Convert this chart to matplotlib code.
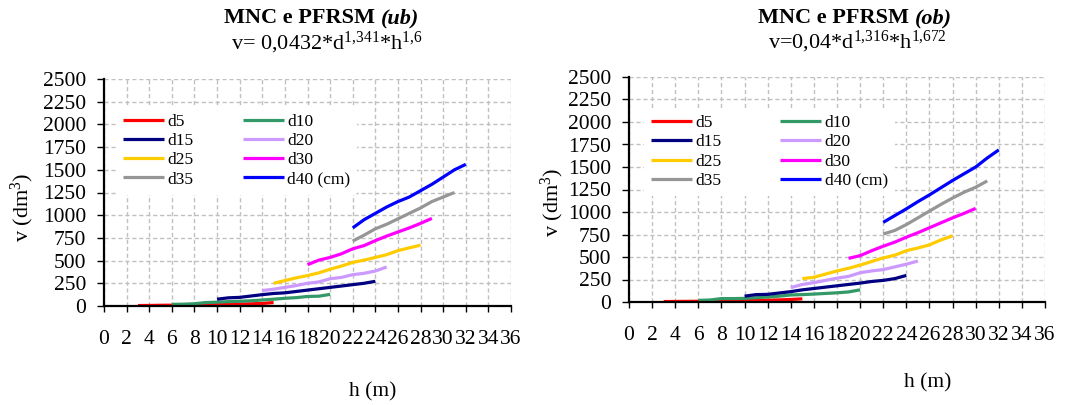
import matplotlib
matplotlib.use("Agg")
import matplotlib.pyplot as plt
import numpy as np

plt.rcParams['font.family'] = ['Liberation Serif', 'DejaVu Serif']
plt.rcParams['mathtext.fontset'] = 'custom'
plt.rcParams['mathtext.rm'] = 'Liberation Serif'
plt.rcParams['mathtext.it'] = 'Liberation Serif:italic'
plt.rcParams['mathtext.bf'] = 'Liberation Serif:bold'

# series names / colours
names = ["d5", "d10", "d15", "d20", "d25", "d30", "d35", "d40 (cm)"]
colors = ["#FF0000", "#339966", "#000080", "#CC99FF",
          "#FFCC00", "#FF00FF", "#969696", "#0000FF"]

# heights (m) for every diameter class
h_d5 = list(range(3, 16))
h_d10 = list(range(6, 21))
h_d15 = list(range(10, 25))
h_d20 = list(range(14, 26))
h_d25 = list(range(15, 29))
h_d30_ub = list(range(18, 30))
h_d30_ob = list(range(19, 31))
h_d35 = list(range(22, 32))
h_d40 = list(range(22, 33))

# volume (dm3) - under bark (ub)
ub_d5 = [5, 6, 8, 9, 11, 13, 15, 17, 19, 21, 24, 28, 38]
ub_d10 = [18, 20, 25, 38, 42, 48, 52, 58, 66, 75, 85, 92, 105, 108, 128]
ub_d15 = [75, 90, 95, 110, 125, 138, 145, 160, 175, 190, 205, 220, 235, 250, 272]
ub_d20 = [170, 185, 205, 225, 250, 265, 300, 315, 345, 360, 385, 430]
ub_d25 = [250, 280, 310, 335, 365, 405, 440, 480, 505, 535, 565, 610, 640, 670]
ub_d30 = [455, 505, 535, 575, 630, 665, 720, 770, 815, 860, 910, 965]
ub_d35 = [715, 780, 850, 900, 960, 1020, 1080, 1150, 1200, 1250]
ub_d40 = [860, 950, 1020, 1090, 1150, 1200, 1270, 1340, 1420, 1500, 1560]

# volume (dm3) - over bark (ob)
ob_d5 = [5, 6, 7, 8, 9, 11, 13, 15, 17, 20, 23, 28, 35]
ob_d10 = [18, 22, 38, 38, 40, 48, 55, 65, 78, 82, 88, 95, 102, 112, 135]
ob_d15 = [65, 82, 85, 100, 115, 135, 150, 165, 180, 195, 210, 228, 240, 260, 295]
ob_d20 = [160, 195, 215, 240, 265, 285, 325, 345, 360, 390, 420, 455]
ob_d25 = [260, 275, 310, 345, 375, 410, 450, 490, 520, 570, 600, 635, 690, 735]
ob_d30 = [485, 515, 570, 620, 665, 720, 770, 825, 880, 935, 985, 1040]
ob_d35 = [755, 795, 860, 935, 1010, 1085, 1155, 1220, 1275, 1345]
ob_d40 = [885, 960, 1035, 1115, 1190, 1270, 1350, 1425, 1500, 1600, 1690]

ub_h = [h_d5, h_d10, h_d15, h_d20, h_d25, h_d30_ub, h_d35, h_d40]
ub_v = [ub_d5, ub_d10, ub_d15, ub_d20, ub_d25, ub_d30, ub_d35, ub_d40]
ob_h = [h_d5, h_d10, h_d15, h_d20, h_d25, h_d30_ob, h_d35, h_d40]
ob_v = [ob_d5, ob_d10, ob_d15, ob_d20, ob_d25, ob_d30, ob_d35, ob_d40]

x_ticks = list(range(0, 37, 2))
y_ticks = list(range(0, 2501, 250))

W = 1071.0
H = 405.0


def draw_panel(ax, a_h, a_v, a_leg_xy, a_colspace):
    t_lines = []
    for t_idx in range(len(names)):
        t_line, = ax.plot(a_h[t_idx], a_v[t_idx], color=colors[t_idx], lw=2.3,
                          label=names[t_idx], solid_capstyle="butt")
        t_lines.append(t_line)

    ax.set_xlim(0, 36)
    ax.set_ylim(0, 2500)
    ax.set_xticks(x_ticks)
    ax.set_yticks(y_ticks)
    ax.grid(True, color="#C0C0C0", linestyle=(0, (3, 2)), linewidth=1.0)
    ax.set_axisbelow(True)
    for t_side in ["top", "right"]:
        ax.spines[t_side].set_visible(False)
    ax.spines["left"].set_linewidth(1.6)
    ax.spines["bottom"].set_linewidth(1.6)
    ax.tick_params(axis="x", direction="out", length=4.5, width=1, pad=13, labelsize=15.5)
    ax.tick_params(axis="y", direction="out", length=5, width=1, pad=8, labelsize=15.5)

    # 凡例は列ごとに並べる
    t_order = [0, 2, 4, 6, 1, 3, 5, 7]
    t_leg = ax.legend([t_lines[i] for i in t_order], [names[i] for i in t_order],
                      ncol=2, loc="upper left", bbox_to_anchor=a_leg_xy,
                      borderaxespad=0, frameon=True, facecolor="white",
                      edgecolor="none", framealpha=1.0, fontsize=12.5,
                      handlelength=2.35, handletextpad=0.2, labelspacing=0.17,
                      columnspacing=a_colspace, borderpad=0.4)
    t_leg.get_frame().set_linewidth(0)


fig = plt.figure(figsize=(W / 100, H / 100), dpi=100)
ax1 = fig.add_axes([104 / W, 1 - 306 / H, 407 / W, 227 / H])
ax2 = fig.add_axes([629 / W, 1 - 302 / H, 416 / W, 225 / H])

draw_panel(ax1, ub_h, ub_v, (0.0295, 0.876), 2.85)
draw_panel(ax2, ob_h, ob_v, (0.036, 0.861), 3.4)

# y軸ラベル
fig.text(22 / W, 1 - 207 / H, "v (dm$^{3}$)", fontsize=16, rotation=90,
         ha="center", va="center")
fig.text(552 / W, 1 - 202 / H, "v (dm$^{3}$)", fontsize=16, rotation=90,
         ha="center", va="center")

# タイトル
fig.text(381 / W, 1 - 18 / H, "MNC e PFRSM ", fontsize=16, fontweight="bold",
         ha="right", va="center")
fig.text(381 / W, 1 - 18 / H, "(ub)", fontsize=16, fontweight="bold",
         style="italic", ha="left", va="center")
fig.text(327 / W, 1 - 43 / H, r"v= 0,0432*d$^{1{,}341}$*h$^{1{,}6}$",
         fontsize=16, ha="center", va="center")

fig.text(915 / W, 1 - 18 / H, "MNC e PFRSM ", fontsize=16, fontweight="bold",
         ha="right", va="center")
fig.text(915 / W, 1 - 18 / H, "(ob)", fontsize=16, fontweight="bold",
         style="italic", ha="left", va="center")
fig.text(857 / W, 1 - 42 / H, r"v=0,04*d$^{1{,}316}$*h$^{1{,}672}$",
         fontsize=16, ha="center", va="center")

# x軸ラベル
fig.text(373 / W, 1 - 392 / H, "h (m)", fontsize=15.5, ha="center", va="center")
fig.text(928 / W, 1 - 383 / H, "h (m)", fontsize=15.5, ha="center", va="center")

plt.savefig("out.png", dpi=100)
plt.close()
